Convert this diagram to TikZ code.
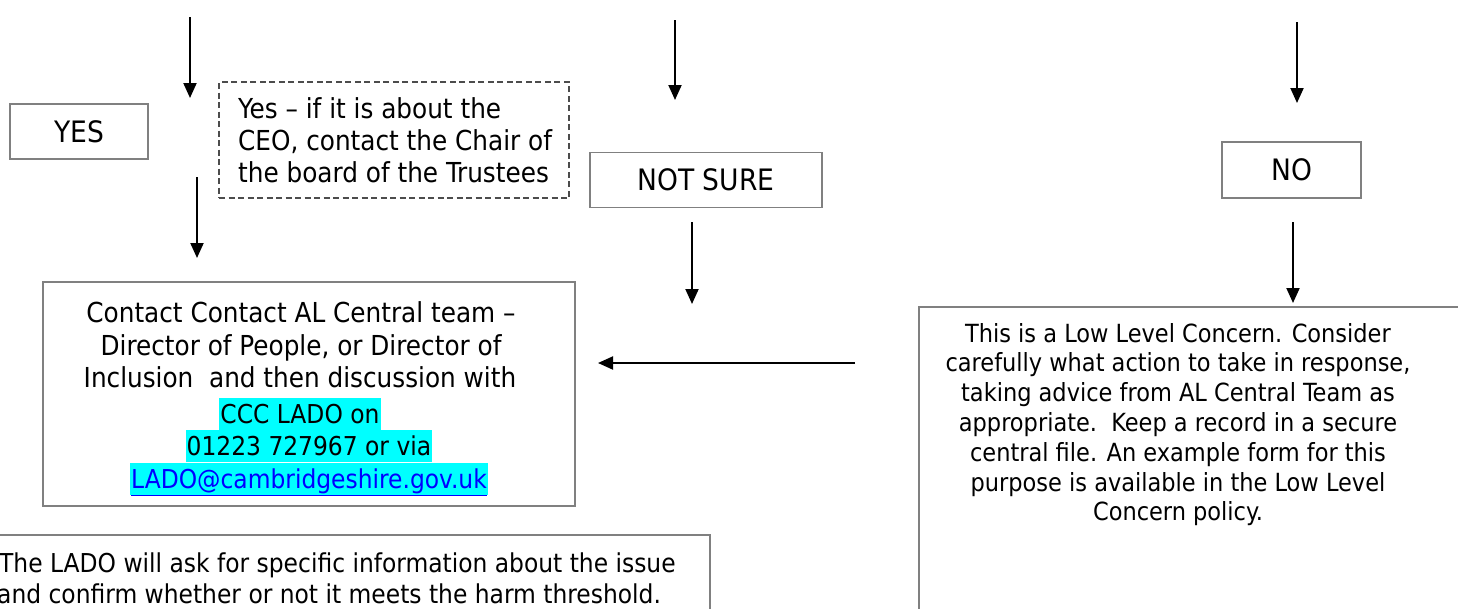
\documentclass[tikz,border=0pt]{standalone}
\usepackage{fontspec}
\setmainfont{DejaVu Sans Condensed}
\usetikzlibrary{arrows.meta}
\definecolor{boxgray}{RGB}{128,128,128}
\definecolor{hl}{RGB}{0,255,255}
\definecolor{linkblue}{RGB}{0,0,255}
\begin{document}
\begin{tikzpicture}[x=1pt,y=-1pt,
  box/.style={draw=boxgray, line width=1.8pt, fill=white, inner sep=0pt},
  dbox/.style={draw=black!70, line width=1.3pt, dash pattern=on 6pt off 3.5pt, inner sep=0pt},
  arr/.style={-{Triangle[length=15pt,width=13pt]}, line width=2pt},
  big/.style={font=\fontsize{29.5}{33}\selectfont, inner sep=0pt},
  txt/.style={font=\fontsize{27.5}{33}\selectfont, inner sep=0pt},
  lowtxt/.style={font=\fontsize{25}{30}\selectfont, inner sep=0pt},
  ladotxt/.style={font=\fontsize{26}{31}\selectfont, inner sep=0pt},
  hlline/.style={font=\fontsize{26}{32}\selectfont, fill=hl, text height=25pt, text depth=7pt, inner ysep=0pt, inner xsep=1pt}]
\clip (0,0) rectangle (1458,608);
\fill[white] (0,0) rectangle (1458,608);

% boxes
\node[box, minimum width=138pt, minimum height=55pt, big] (yes) at (79,131.5) {YES};
\node[dbox, minimum width=350pt, minimum height=116pt] (ceo) at (394,140) {};
\node[box, minimum width=232pt, minimum height=55pt, big] (notsure) at (706,180) {NOT SURE};
\node[box, minimum width=139pt, minimum height=56pt, big] (no) at (1291.5,170) {NO};
\node[box, minimum width=532pt, minimum height=224pt] (central) at (309,394) {};
\node[box, minimum width=600pt, minimum height=340pt] (low) at (1219,477) {};
\node[box, minimum width=760pt, minimum height=120pt] (lado) at (330,595) {};

% dashed box text
\node[txt, anchor=base west] (ceo1) at (238,118) {Yes – if it is about the};
\node[txt, anchor=base west] (ceo2) at (238,150) {CEO, contact the Chair of};
\node[txt, anchor=base west] (ceo3) at (238,182) {the board of the Trustees};

% central box text
\node[txt, anchor=base] (c1) at (301,322) {Contact Contact AL Central team –};
\node[txt, anchor=base] (c2) at (301,355) {Director of People, or Director of};
\node[txt, anchor=base] (c3) at (300,387) {Inclusion\ \ and then discussion with};
\node[hlline, anchor=base] (c4) at (300,423) {CCC LADO on};
\node[hlline, anchor=base] (c5) at (309,455) {01223 727967 or via};
\node[hlline, anchor=base] (c6) at (309,488) {\color{linkblue}\underline{LADO@cambridgeshire.gov.uk}};

% low level text
\foreach \t [count=\i, evaluate=\i as \yy using 342+29.8*(\i-1)] in
  {This is a Low Level Concern. Consider,
   carefully what action to take in response{,},
   taking advice from AL Central Team as,
   appropriate.\ \ Keep a record in a secure,
   central file. An example form for this,
   purpose is available in the Low Level,
   Concern policy.}
  \node[lowtxt, anchor=base] (l\i) at (1178,\yy) {\t};

% LADO text
\node[ladotxt, anchor=base west] (lado1) at (-1,572) {The LADO will ask for specific information about the issue};
\node[ladotxt, anchor=base west] (lado2) at (-3,603) {and confirm whether or not it meets the harm threshold.};

% arrows
\coordinate (a1s) at (190,17);  \coordinate (a1e) at (190,98);
\coordinate (a2s) at (197,177); \coordinate (a2e) at (197,258);
\coordinate (a3s) at (675,20);  \coordinate (a3e) at (675,100);
\coordinate (a4s) at (692,222); \coordinate (a4e) at (692,304);
\coordinate (a5s) at (1297,22); \coordinate (a5e) at (1297,103);
\coordinate (a6s) at (1293,222);\coordinate (a6e) at (1293,303);
\coordinate (a7s) at (855,363); \coordinate (a7e) at (598,363);
\foreach \k in {1,...,7} \draw[arr] (a\k s) -- (a\k e);
\end{tikzpicture}
\end{document}
